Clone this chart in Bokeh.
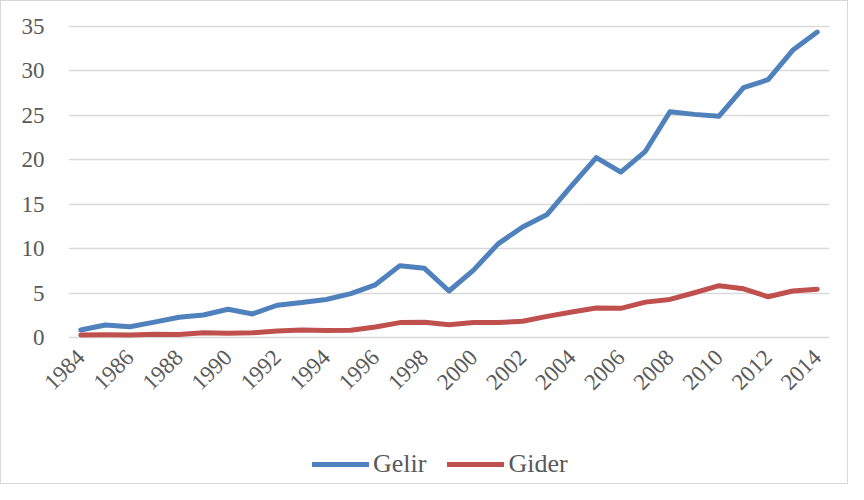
from bokeh.plotting import figure
from bokeh.models import Legend, LegendItem, Range1d, FixedTicker
from bokeh.layouts import column
from bokeh.embed import file_html
from bokeh.resources import INLINE
import math

years = list(range(1984, 2015))
tick_years = [1984, 1986, 1988, 1990, 1992, 1994, 1996, 1998, 2000,
              2002, 2004, 2006, 2008, 2010, 2012, 2014]
gelir = [0.87, 1.43, 1.24, 1.75, 2.3, 2.55, 3.2, 2.67, 3.65, 3.95, 4.3, 4.95,
         5.95, 8.1, 7.8, 5.25, 7.6, 10.55, 12.45, 13.85, 17.1, 20.25, 18.6, 20.95,
         25.4, 25.1, 24.9, 28.1, 29.0, 32.3, 34.35]
gider = [0.3, 0.32, 0.3, 0.4, 0.35, 0.55, 0.5, 0.55, 0.75, 0.88, 0.82, 0.85,
         1.2, 1.7, 1.75, 1.45, 1.7, 1.7, 1.85, 2.4, 2.9, 3.35, 3.3, 4.0,
         4.3, 5.05, 5.85, 5.5, 4.6, 5.25, 5.45]
y_ticks = [0, 5, 10, 15, 20, 25, 30, 35]
series_names = ["Gelir", "Gider"]
colors = ["#4F81BD", "#C0504D"]

AXIS_FONT = "serif"
FONT = "Liberation Serif"
TXT = "#595959"

p = figure(width=846, height=420, x_range=Range1d(years[0] - 0.5, years[-1] + 0.5),
           y_range=Range1d(-0.2, 35.2), output_backend="svg", toolbar_location=None,
           min_border_left=67, min_border_right=18, min_border_top=23, min_border_bottom=82)
p.outline_line_color = None

p.line(years, gelir, line_color=colors[0], line_width=5, line_cap="round", line_join="round")
p.line(years, gider, line_color=colors[1], line_width=5, line_cap="round", line_join="round")

p.xgrid.grid_line_color = None
p.ygrid.grid_line_color = "#d9d9d9"
p.ygrid.grid_line_width = 1.3
p.yaxis.ticker = FixedTicker(ticks=y_ticks)
p.xaxis.ticker = FixedTicker(ticks=tick_years)

for ax in (p.xaxis[0], p.yaxis[0]):
    ax.axis_line_color = None
    ax.major_tick_line_color = None
    ax.minor_tick_line_color = None
    ax.major_tick_out = 0
    ax.major_label_text_font = AXIS_FONT
    ax.major_label_text_color = TXT
    ax.major_label_text_font_size = "23px"
p.yaxis.major_label_standoff = 24
p.xaxis.major_label_orientation = math.pi / 4
p.xaxis.major_label_standoff = 14

# legend strip below the chart (its lines lie outside its view; only the legend shows)
lg = figure(width=846, height=62, x_range=Range1d(0, 1), y_range=Range1d(0, 1),
            output_backend="svg", toolbar_location=None,
            min_border_left=0, min_border_right=0, min_border_top=0, min_border_bottom=0)
lg.outline_line_color = None
lg.axis.visible = False
lg.grid.visible = False
rs = [lg.line(years, vals, line_color=c, line_width=5, line_cap="round")
      for vals, c in zip([gelir, gider], colors)]
legend = Legend(items=[LegendItem(label=n, renderers=[r]) for n, r in zip(series_names, rs)],
                orientation="horizontal", location=(244, 4),
                glyph_width=57, label_standoff=4, spacing=21, padding=0,
                border_line_color=None, background_fill_alpha=0,
                label_text_font=FONT, label_text_color=TXT, label_text_font_size="26px")
lg.add_layout(legend, "center")

layout = column(p, lg, spacing=0, styles={"border": "1px solid #d9d9d9"})

open("out.html", "w").write(file_html(layout, INLINE))
